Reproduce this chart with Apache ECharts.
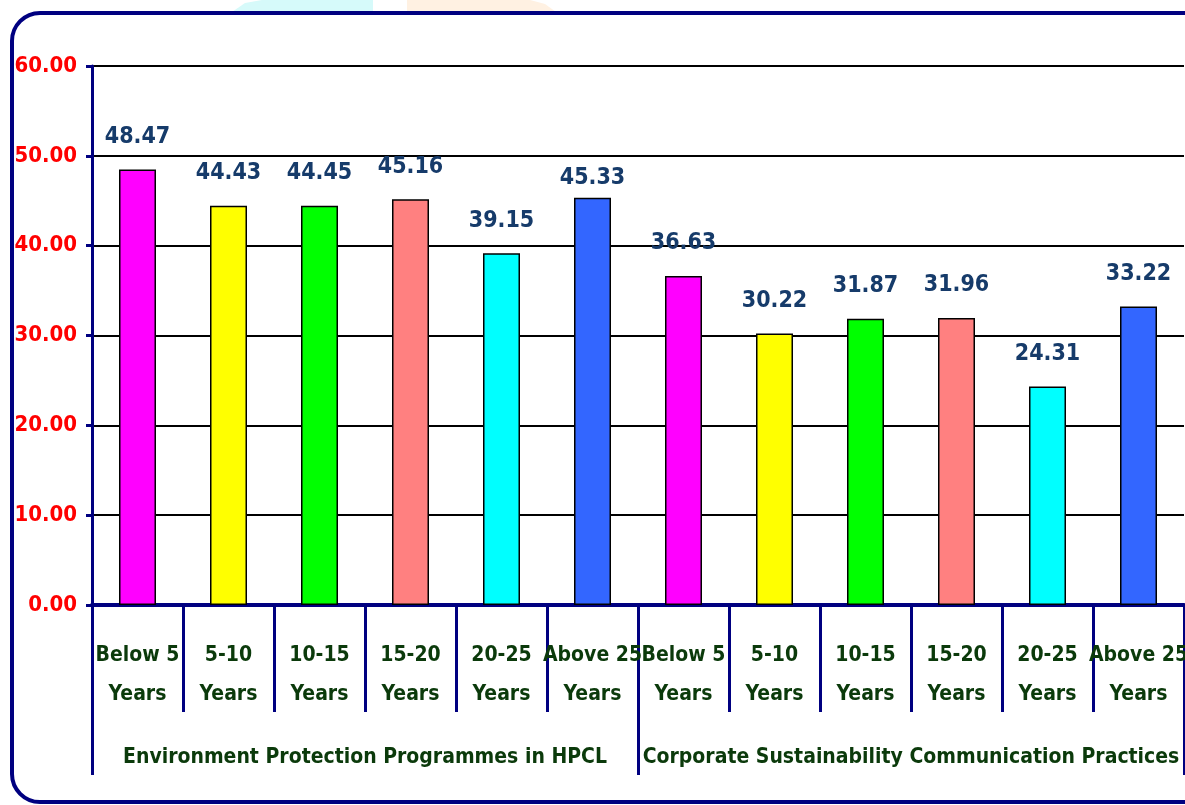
<!DOCTYPE html>
<html><head><meta charset="utf-8">
<script src="https://cdn.jsdelivr.net/npm/echarts@6/dist/echarts.min.js"></script>
<style>html,body{margin:0;padding:0;background:#fff}#c{width:1185px;height:805px}</style>
</head><body><div id="c"></div>
<script>
const groups = ['Environment Protection Programmes in HPCL', 'Corporate Sustainability Communication Practices'];
const categories = ['Below 5\nYears','5-10\nYears','10-15\nYears','15-20\nYears','20-25\nYears','Above 25\nYears',
                    'Below 5\nYears','5-10\nYears','10-15\nYears','15-20\nYears','20-25\nYears','Above 25\nYears'];
const values = [48.47, 44.43, 44.45, 45.16, 39.15, 45.33, 36.63, 30.22, 31.87, 31.96, 24.31, 33.22];
const yTicks = [0, 10, 20, 30, 40, 50, 60];

const palette = ['#FF00FF','#FFFF00','#00FF00','#FF8080','#00FFFF','#3366FF'];
const FONT = '"DejaVu Sans Condensed","Liberation Sans Narrow","Arial Narrow",sans-serif';
const NAVY = '#000080';

// label placement: one label sits closer to its bar in the original
const seriesData = values.map((v, i) => i === 5 ? {value: v, label: {distance: 8}} : v);

const chart = echarts.init(document.getElementById('c'), null, {renderer:'canvas'});
chart.setOption({
  backgroundColor:'#fff',
  animation:false,
  grid:{left:92, right:1, top:66, bottom:200, containLabel:false, outerBoundsMode:'none'},
  graphic:[
    {type:'polygon', z:-2, shape:{points:[[232,12],[245,3],[262,0],[373,0],[373,12]]}, style:{fill:'#D6FAFA'}},
    {type:'polygon', z:-2, shape:{points:[[407,12],[407,0],[530,0],[545,4],[556,12]]}, style:{fill:'#FFF1E2'}},
    {type:'rect', z:-1,
     shape:{x:12, y:13, width:1200, height:789, r:[28,0,0,28]},
     style:{fill:'none', stroke:NAVY, lineWidth:4}}
  ],
  xAxis:[{
    type:'category', data:categories, position:'bottom',
    axisLine:{show:true, lineStyle:{color:NAVY, width:4}},
    axisTick:{show:true, interval:0, length:107, lineStyle:{color:NAVY, width:3}},
    axisLabel:{interval:0, margin:31, color:'#0B3A0B', fontFamily:FONT, fontWeight:'bold', fontSize:21, lineHeight:39},
    splitLine:{show:false}
  },{
    type:'category', data:groups, position:'bottom',
    axisLine:{show:false},
    axisTick:{show:true, interval:0, length:170, lineStyle:{color:NAVY, width:3}},
    axisLabel:{interval:0, margin:142, color:'#0B3A0B', fontFamily:FONT, fontWeight:'bold', fontSize:21},
    splitLine:{show:false}
  }],
  yAxis:{
    type:'value', min:yTicks[0], max:yTicks[yTicks.length-1], interval:10,
    axisLine:{show:true, lineStyle:{color:NAVY, width:3}},
    axisTick:{show:true, length:6, lineStyle:{color:NAVY, width:3}},
    axisLabel:{color:'#FF0000', fontFamily:FONT, fontWeight:'bold', fontSize:22, margin:15, formatter:v=>v.toFixed(2)},
    splitLine:{show:true, lineStyle:{color:'#000', width:2}}
  },
  series:[{
    type:'bar', xAxisIndex:0, data:seriesData, barWidth:37,
    itemStyle:{
      color:p=>palette[p.dataIndex % palette.length],
      borderColor:'#000', borderWidth:1.5
    },
    label:{show:true, position:'top', distance:21, color:'#163B6A', fontFamily:FONT, fontWeight:'bold', fontSize:23,
      formatter:p=>p.value.toFixed(2)}
  }]
});
</script></body></html>
